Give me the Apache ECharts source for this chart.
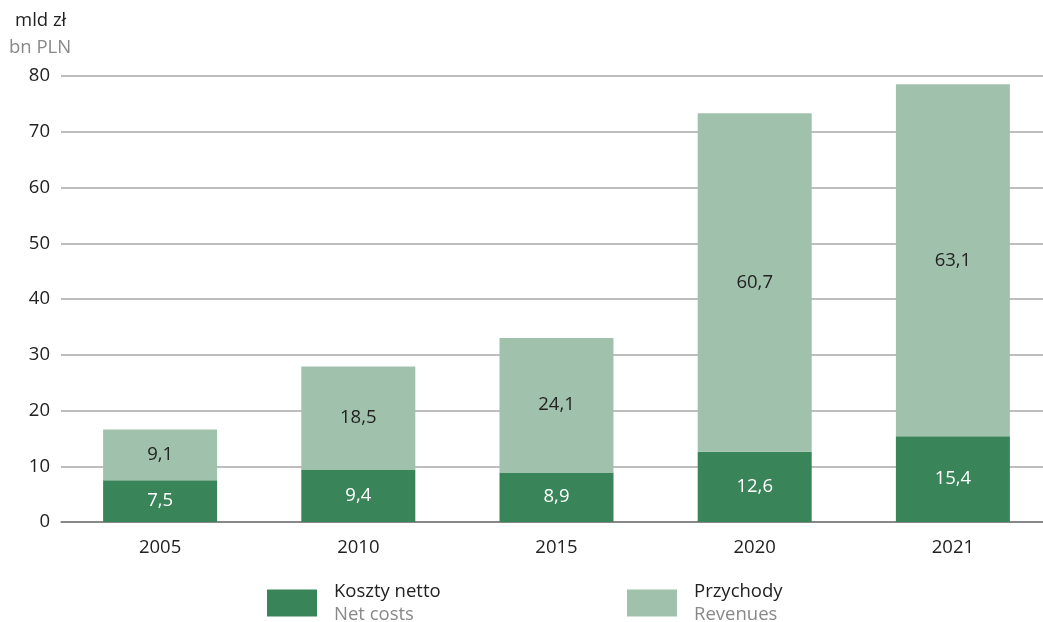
<!DOCTYPE html>
<html><head><meta charset="utf-8">
<script src="https://cdn.jsdelivr.net/npm/echarts@6/dist/echarts.min.js"></script>
<style>html,body{margin:0;padding:0;background:#fff;overflow:hidden}#c{width:1052px;height:622px}</style>
</head><body><div id="c"></div>
<script>
const categories = ['2005', '2010', '2015', '2020', '2021'];
const netCosts = [7.5, 9.4, 8.9, 12.6, 15.4];
const revenues = [9.1, 18.5, 24.1, 60.7, 63.1];
const yTicks = {min: 0, max: 80, interval: 10};

const FONT = '"Open Sans", "Noto Sans", sans-serif';
const FS = 18.5;
const DARK = '#3a845a';
const LIGHT = '#a0c1ab';
const fmt = p => String(p.value).replace('.', ',');
const legendRich = {
  a: {fontFamily: FONT, fontSize: FS, color: '#222', lineHeight: 23, padding: [0,0,0,12]},
  b: {fontFamily: FONT, fontSize: FS, color: '#888', lineHeight: 23, padding: [0,0,0,12]}
};

const chart = echarts.init(document.getElementById('c'));
chart.setOption({
  animation: false,
  textStyle: {fontFamily: FONT},
  title: {
    left: 9, top: 7, padding: 0,
    text: '{a|mld zł}\n{b|bn PLN}',
    textStyle: {
      fontWeight: 'normal', fontSize: FS, fontFamily: FONT,
      rich: {
        a: {fontFamily: FONT, fontSize: FS, fontWeight: 'normal', color: '#222', lineHeight: 27, padding: [0,0,0,6]},
        b: {fontFamily: FONT, fontSize: FS, fontWeight: 'normal', color: '#888', lineHeight: 27}
      }
    }
  },
  legend: [
    {left: 267, top: 582, padding: 0, itemWidth: 50, itemHeight: 27, data: ['Koszty netto'],
     icon: 'rect', formatter: () => '{a|Koszty netto}\n{b|Net costs}',
     textStyle: {fontSize: FS, rich: legendRich}},
    {left: 627, top: 582, padding: 0, itemWidth: 50, itemHeight: 27, data: ['Przychody'],
     icon: 'rect', formatter: () => '{a|Przychody}\n{b|Revenues}',
     textStyle: {fontSize: FS, rich: legendRich}}
  ],
  grid: {left: 61, right: 0, top: 76, bottom: 100, containLabel: false},
  xAxis: {
    type: 'category', data: categories,
    axisLine: {show: true, lineStyle: {color: '#777', width: 1.5}},
    axisTick: {show: false},
    axisLabel: {color: '#222', fontSize: FS, margin: 16, fontFamily: FONT}
  },
  yAxis: {
    type: 'value', min: yTicks.min, max: yTicks.max, interval: yTicks.interval,
    axisLine: {show: false}, axisTick: {show: false},
    axisLabel: {color: '#222', fontSize: FS, margin: 11, fontFamily: FONT},
    splitLine: {lineStyle: {color: '#a8a8a8', width: 1.5}}
  },
  series: [
    {name: 'Koszty netto', type: 'bar', stack: 's', data: netCosts, barWidth: 114,
     itemStyle: {color: DARK},
     label: {show: true, position: 'inside', color: '#fff', fontSize: FS, fontFamily: FONT, formatter: fmt}},
    {name: 'Przychody', type: 'bar', stack: 's', data: revenues, barWidth: 114,
     itemStyle: {color: LIGHT},
     label: {show: true, position: 'inside', color: '#222', fontSize: FS, fontFamily: FONT, formatter: fmt}}
  ]
});
</script></body></html>
